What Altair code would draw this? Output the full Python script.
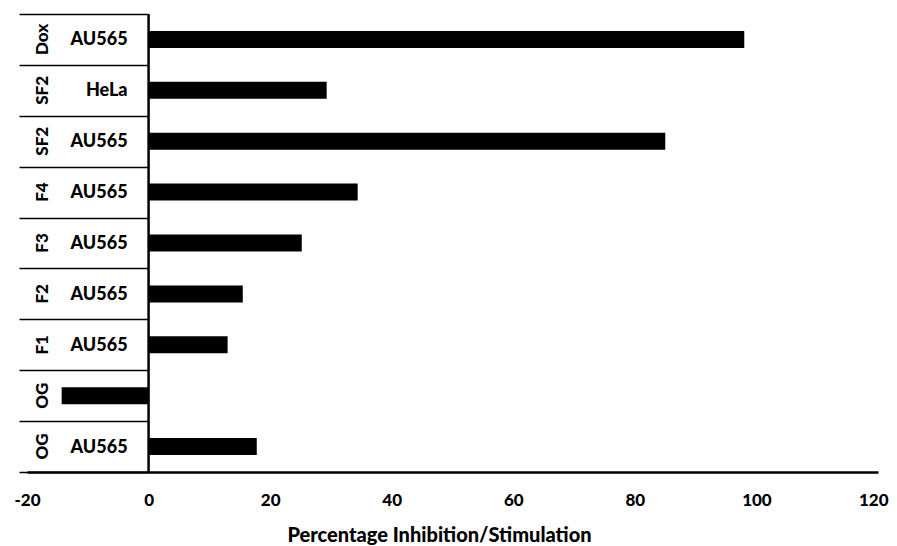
import altair as alt
import pandas as pd

compounds = ["Dox", "SF2", "SF2", "F4", "F3", "F2", "F1", "OG", "OG"]
cells = ["AU565", "HeLa", "AU565", "AU565", "AU565", "AU565", "AU565", "HeLa", "AU565"]
values = [98.0, 29.3, 85.0, 34.4, 25.2, 15.5, 13.0, -14.3, 17.8]
x_ticks = [-20, 0, 20, 40, 60, 80, 100, 120]

n = len(values)
df = pd.DataFrame({"row": list(range(n)), "compound": compounds,
                   "cell": cells, "value": values})
sep_df = pd.DataFrame({"b": list(range(n + 1))})
zero_df = pd.DataFrame({"z": [0]})

FONT = "Lato"
W = 900
xscale = alt.Scale(domain=[-20, 120], nice=False, zero=False)
yscale = alt.Scale(paddingInner=0, paddingOuter=0)
y = alt.Y("row:O", scale=yscale, axis=None)

base = alt.Chart(df)

outer = base.mark_text(angle=270, font=FONT, fontWeight=W, fontSize=17,
                       align="center", baseline="middle", color="black").encode(
    x=alt.datum(-17.3), y=y, text="compound:N")

inner = base.mark_text(align="right", baseline="middle", dy=1, font=FONT, fontWeight=W,
                       fontSize=18, color="black").encode(
    x=alt.datum(-3.45), y=y, text="cell:N")

bars = base.mark_bar(size=17, color="black").encode(
    x=alt.X("value:Q", scale=xscale,
            axis=alt.Axis(values=x_ticks, ticks=False, grid=False, domainColor="black",
                          domainWidth=2.5, labelFont=FONT, labelFontSize=17,
                          labelFontWeight=W, labelColor="black", labelPadding=20,
                          labelFlush=False, labelOverlap=False,
                          labelExpr="'' + datum.value",
                          labelAlign={"condition": {"test": "datum.value == 120", "value": "right"},
                                      "value": "center"},
                          labelOffset={"condition": {"test": "datum.value == 120", "value": 10},
                                       "value": 0},
                          title="Percentage Inhibition/Stimulation", titleFont=FONT,
                          titleFontSize=20, titleFontWeight=W, titleColor="black",
                          titlePadding=17, titleX=412, titleAlign="center")),
    x2=alt.datum(0),
    y=y)

labels_and_bars = alt.layer(outer, inner, bars)

# row separators of the label table: ticks of a y axis placed at x = 0, reaching left
seps = alt.Chart(sep_df).mark_point(opacity=0, size=1).encode(
    x=alt.datum(0),
    y=alt.Y("b:Q", scale=alt.Scale(domain=[0, n], reverse=True, nice=False, zero=False),
            axis=alt.Axis(values=list(range(n + 1)), ticks=True, tickSize=129,
                          tickWidth=1.5, tickColor="black", domain=False, labels=False,
                          grid=False, title=None, offset=-121)))

zero_line = alt.Chart(zero_df).mark_rule(color="black", strokeWidth=2.5).encode(
    x=alt.X("z:Q", scale=xscale))

chart = alt.layer(seps, labels_and_bars, zero_line).resolve_scale(y="independent").properties(
    width=851, height=458,
    autosize=alt.AutoSizeParams(type="none"),
    padding={"left": 19, "top": 6, "right": 11, "bottom": 74},
    background="white",
).configure_view(stroke=None)

chart.save("out.html", embed_options={"renderer": "svg", "actions": False})
